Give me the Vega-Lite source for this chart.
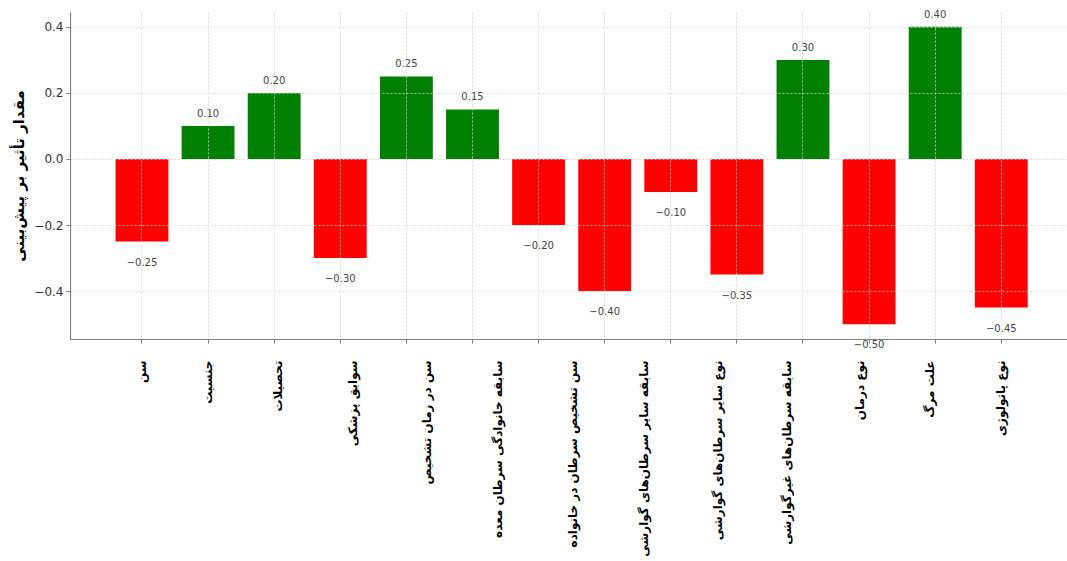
{
  "$schema": "https://vega.github.io/schema/vega-lite/v6.json",
  "width": 997,
  "height": 327,
  "autosize": {"type": "none"},
  "padding": {"left": 70, "top": 12, "right": 0, "bottom": 222},
  "background": "white",
  "config": {
    "view": {"stroke": null},
    "font": "DejaVu Sans"
  },
  "data": {
    "values": [
      {"label": "سن", "v": -0.25},
      {"label": "جنسیت", "v": 0.10},
      {"label": "تحصیلات", "v": 0.20},
      {"label": "سوابق پزشکی", "v": -0.30},
      {"label": "سن در زمان تشخیص", "v": 0.25},
      {"label": "سابقه خانوادگی سرطان معده", "v": 0.15},
      {"label": "سن تشخیص سرطان در خانواده", "v": -0.20},
      {"label": "سابقه سایر سرطان‌های گوارشی", "v": -0.40},
      {"label": "نوع سایر سرطان‌های گوارشی", "v": -0.10},
      {"label": "سابقه سرطان‌های غیرگوارشی", "v": -0.35},
      {"label": " ", "v": 0.30},
      {"label": "نوع درمان", "v": -0.50},
      {"label": "علت مرگ", "v": 0.40},
      {"label": "نوع پاتولوژی", "v": -0.45}
    ]
  },
  "encoding": {
    "x": {
      "field": "label",
      "type": "nominal",
      "sort": null,
      "scale": {"paddingInner": 0.2, "paddingOuter": 0.6415, "align": 0.537},
      "axis": {
        "title": null,
        "labelAngle": 270,
        "labelFont": "DejaVu Sans",
        "labelFontSize": 12,
        "labelFontWeight": "bold",
        "labelColor": "#000000",
        "labelPadding": 17,
        "labelLimit": 260,
        "tickSize": 4,
        "tickColor": "#808080",
        "domainColor": "#808080",
        "domainWidth": 1.2,
        "grid": true,
        "gridColor": "#d0d0d0",
        "gridDash": [2, 2],
        "gridWidth": 0.8,
        "zindex": 1,
        "labelOffset": {
          "condition": [
            {"test": "datum.value === 'تحصیلات'", "value": 4},
            {"test": "datum.value === 'سوابق پزشکی'", "value": 13},
            {"test": "datum.value === 'سن در زمان تشخیص'", "value": 21},
            {"test": "datum.value === 'سابقه خانوادگی سرطان معده'", "value": 26},
            {"test": "datum.value === 'سن تشخیص سرطان در خانواده'", "value": 34},
            {"test": "datum.value === 'سابقه سایر سرطان‌های گوارشی'", "value": 39},
            {"test": "datum.value === 'نوع سایر سرطان‌های گوارشی'", "value": 47},
            {"test": "datum.value === 'سابقه سرطان‌های غیرگوارشی'", "value": 50},
            {"test": "datum.value === 'نوع درمان'", "value": -9},
            {"test": "datum.value === 'علت مرگ'", "value": -5}
          ],
          "value": 0
        }
      }
    },
    "y": {
      "field": "v",
      "type": "quantitative",
      "scale": {"domain": [-0.545, 0.445], "nice": false, "zero": false},
      "axis": {
        "title": "مقدار تأثیر بر پیش‌بینی",
        "titleFont": "DejaVu Sans",
        "titleFontSize": 15,
        "titleFontWeight": "bold",
        "titleColor": "#000000",
        "titlePadding": 7,
        "values": [-0.4, -0.2, 0, 0.2, 0.4],
        "format": ".1f",
        "labelFontSize": 12,
        "labelColor": "#333333",
        "labelPadding": 3,
        "tickSize": 4,
        "tickColor": "#808080",
        "domainColor": "#808080",
        "domainWidth": 1.2,
        "grid": true,
        "gridColor": "#d0d0d0",
        "gridDash": [2, 2],
        "gridWidth": 0.8,
        "zindex": 1
      }
    }
  },
  "layer": [
    {
      "mark": {"type": "bar"},
      "encoding": {
        "y2": {"datum": 0},
        "color": {
          "condition": {"test": "datum.v > 0", "value": "#008000"},
          "value": "#ff0000"
        }
      }
    },
    {
      "transform": [{"filter": "datum.v > 0"}],
      "mark": {"type": "text", "baseline": "bottom", "dy": -7, "fontSize": 10, "color": "#444444", "font": "DejaVu Sans"},
      "encoding": {"text": {"field": "v", "type": "quantitative", "format": ".2f"}}
    },
    {
      "transform": [{"filter": "datum.v < 0"}],
      "mark": {"type": "text", "baseline": "top", "dy": 16, "fontSize": 10, "color": "#444444", "font": "DejaVu Sans"},
      "encoding": {"text": {"field": "v", "type": "quantitative", "format": ".2f"}}
    }
  ]
}
